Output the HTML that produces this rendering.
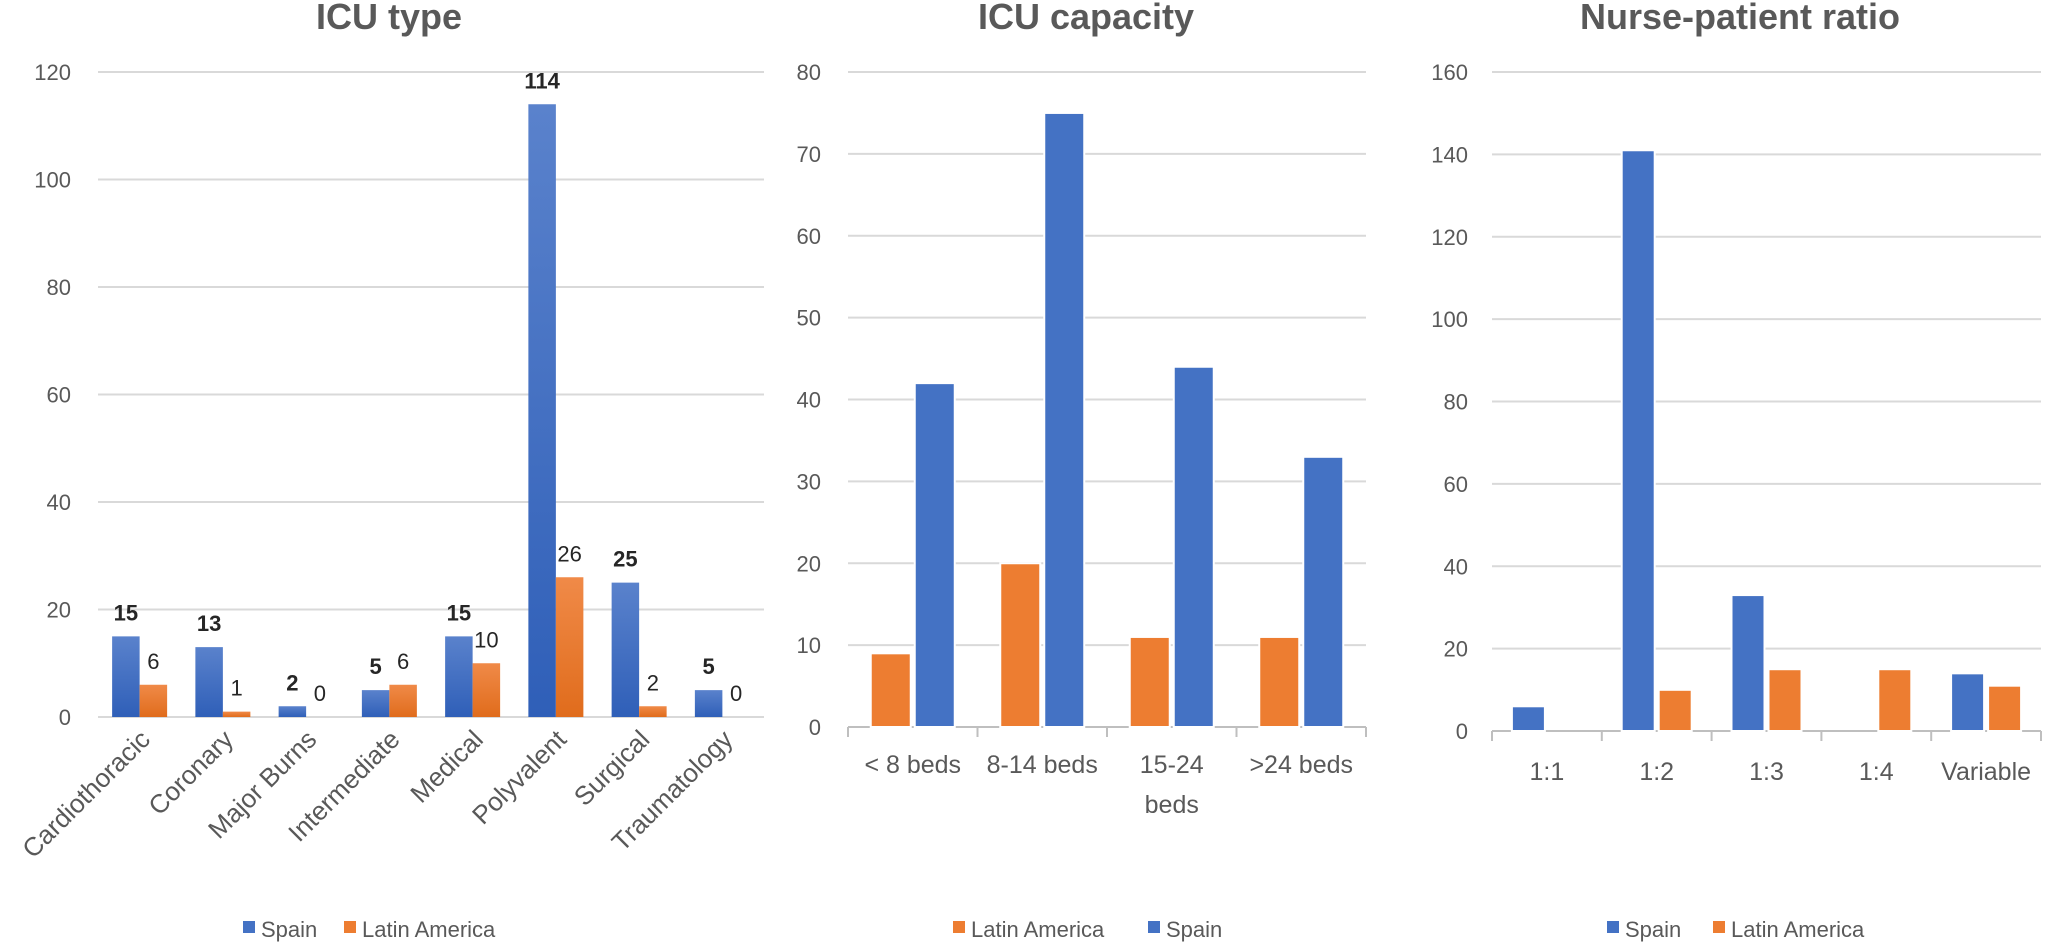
<!DOCTYPE html>
<html><head><meta charset="utf-8"><style>
html,body{margin:0;padding:0;background:#fff}
svg{display:block}
text{font-family:"Liberation Sans",sans-serif}
</style></head><body>
<svg id="chart" width="2050" height="944" viewBox="0 0 2050 944" xmlns="http://www.w3.org/2000/svg">
<defs>
<linearGradient id="gb" x1="0" y1="0" x2="0" y2="1"><stop offset="0" stop-color="#5a82cc"/><stop offset="1" stop-color="#2f5fb8"/></linearGradient>
<linearGradient id="go" x1="0" y1="0" x2="0" y2="1"><stop offset="0" stop-color="#f08a48"/><stop offset="1" stop-color="#e06c1c"/></linearGradient>
</defs>
</svg>
<script>
// Panel 1: ICU type
const typeCats = ["Cardiothoracic","Coronary","Major Burns","Intermediate","Medical","Polyvalent","Surgical","Traumatology"];
const typeSpain = [15,13,2,5,15,114,25,5];
const typeLatam = [6,1,0,6,10,26,2,0];
const typeTicks = [0,20,40,60,80,100,120];
// Panel 2: ICU capacity
const capCats = [["< 8 beds"],["8-14 beds"],["15-24","beds"],[">24 beds"]];
const capLatam = [9,20,11,11];
const capSpain = [42,75,44,33];
const capTicks = [0,10,20,30,40,50,60,70,80];
// Panel 3: Nurse-patient ratio
const ratioCats = ["1:1","1:2","1:3","1:4","Variable"];
const ratioSpain = [6,141,33,0,14];
const ratioLatam = [0,10,15,15,11];
const ratioTicks = [0,20,40,60,80,100,120,140,160];

const NS="http://www.w3.org/2000/svg";
const svg=document.getElementById('chart');
function mk(tag,attrs,parent,txt){const e=document.createElementNS(NS,tag);for(const k in attrs)e.setAttribute(k,attrs[k]);if(txt!==undefined)e.textContent=txt;(parent||svg).appendChild(e);return e;}

function panel(cfg){
  const g=mk('g',{});
  
  
  const y=v=>cfg.y0-(v-cfg.min)/(cfg.max-cfg.min)*(cfg.y0-cfg.yTop);
  const bw=(cfg.x1-cfg.x0)/cfg.cats.length;
  const t=mk('text',{x:cfg.titleX,y:29,'text-anchor':'middle','font-size':36,'font-weight':'bold',fill:'#595959'},g,cfg.title);
  
  
  cfg.ticks.forEach(v=>{
    const l=mk('line',{x1:cfg.x0,x2:cfg.x1,y1:y(v),y2:y(v),stroke:(v===0&&cfg.axis)?'#bfbfbf':'#d9d9d9','stroke-width':2},g);
    
    
    const tl=mk('text',{x:cfg.labelX,y:y(v)+8,'text-anchor':'end','font-size':22,fill:'#595959'},g,String(v));
    
    
  });
  if(cfg.axis){
    for(let i=0;i<=cfg.cats.length;i++){
      const tk=mk('line',{x1:cfg.x0+i*bw,x2:cfg.x0+i*bw,y1:cfg.y0,y2:cfg.y0+10,stroke:'#bfbfbf','stroke-width':2},g);
      
      
    }
  }
  cfg.cats.forEach((c,i)=>{
    const cx=cfg.x0+(i+0.5)*bw;
    cfg.series.forEach((s,j)=>{
      const n=cfg.series.length;
      const x=cx-(n*cfg.barW+(n-1)*cfg.gap)/2+j*(cfg.barW+cfg.gap);
      const v=s.values[i];
      if(v>0){
        const r=mk('rect',{x:x,y:y(v),width:cfg.barW,height:cfg.y0-y(v),fill:s.fill,stroke:cfg.stroke?'#fff':'none','stroke-width':cfg.stroke?2:0},g);
        
        
      }
      if(cfg.dataLabels){
        const dl=mk('text',{x:x+cfg.barW/2,y:y(v)-16,'text-anchor':'middle','font-size':22,'font-weight':s.bold?'bold':'normal',fill:'#262626'},g,String(v));
        
        
      }
    });
    if(cfg.rotate){
      const xl=mk('text',{x:cx+12,y:cfg.y0+24,'text-anchor':'end','font-size':26,fill:'#595959',transform:`rotate(-45 ${cx+12} ${cfg.y0+24})`},g,c);
      
      
    } else {
      const lines=Array.isArray(c)?c:[c];
      lines.forEach((ln,k)=>{
        const xl=mk('text',{x:cx,y:cfg.labelY+k*40,'text-anchor':'middle','font-size':25,fill:'#595959'},g,ln);
        
        
      });
    }
  });
  cfg.legend.forEach(L=>{
    const lg=mk('g',{},g);
    
    
    mk('rect',{x:L.x,y:921,width:12,height:12,fill:L.fill},lg);
    mk('text',{x:L.x+18,y:937,'font-size':22,fill:'#595959'},lg,L.label);
  });
}

panel({name:'icu-type-chart',title:'ICU type',titleX:389,x0:98,x1:764,y0:717,yTop:72,min:0,max:120,labelX:71,
  ticks:typeTicks,cats:typeCats,barW:27.5,gap:0,rotate:true,dataLabels:true,stroke:false,axis:false,
  series:[{key:'spain',values:typeSpain,fill:'url(#gb)',bold:true},{key:'latam',values:typeLatam,fill:'url(#go)',bold:false}],
  legend:[{key:'spain',x:243,fill:'#4472C4',label:'Spain'},{key:'latam',x:344,fill:'#ED7D31',label:'Latin America'}]});

panel({name:'icu-capacity-chart',title:'ICU capacity',titleX:1086,x0:848,x1:1366,y0:727,yTop:72,min:0,max:80,labelX:821,
  ticks:capTicks,cats:capCats,barW:40,gap:4,rotate:false,labelY:773,dataLabels:false,stroke:true,axis:true,
  series:[{key:'latam',values:capLatam,fill:'#ED7D31'},{key:'spain',values:capSpain,fill:'#4472C4'}],
  legend:[{key:'latam',x:953,fill:'#ED7D31',label:'Latin America'},{key:'spain',x:1148,fill:'#4472C4',label:'Spain'}]});

panel({name:'nurse-patient-ratio-chart',title:'Nurse-patient ratio',titleX:1740,x0:1492,x1:2041,y0:731,yTop:72,min:0,max:160,labelX:1468,
  ticks:ratioTicks,cats:ratioCats,barW:33,gap:4,rotate:false,labelY:780,dataLabels:false,stroke:true,axis:true,
  series:[{key:'spain',values:ratioSpain,fill:'#4472C4'},{key:'latam',values:ratioLatam,fill:'#ED7D31'}],
  legend:[{key:'spain',x:1607,fill:'#4472C4',label:'Spain'},{key:'latam',x:1713,fill:'#ED7D31',label:'Latin America'}]});
</script>
</body></html>
